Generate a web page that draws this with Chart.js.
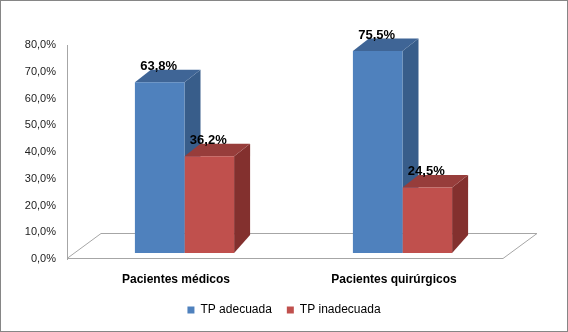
<!DOCTYPE html>
<html lang="es">
<head>
  <meta charset="UTF-8">
  <title>TP adecuada / inadecuada</title>
  <script src="https://cdn.jsdelivr.net/npm/chart.js"></script>
  <style>
    body { margin: 0; background: #fff; }
    canvas { display: block; }
  </style>
</head>
<body>
  <canvas id="tpChart" width="568" height="332"></canvas>

  <script>
    const categories = ['Pacientes médicos', 'Pacientes quirúrgicos'];
    const seriesNames = ['TP adecuada', 'TP inadecuada'];
    const adecuada = [63.8, 75.5];
    const inadecuada = [36.2, 24.5];
    const yMin = 0;
    const yMax = 80;
    const yStep = 10;

    const FONT = '"Liberation Sans", Arial, sans-serif';

    // 3D offsets (front face shift, bar depth, floor depth)
    const FRONT = { x: 8.5, y: -6 };
    const DEPTH = { x: 16, yTop: -12.5, yBottom: -18 };
    const FLOOR = { x: 34, y: -25 };

    const pct = v => v.toFixed(1).replace('.', ',') + '%';

    // side + top faces, drawn before the front faces so later bars cover earlier sides
    function drawFaces(ctx, el, ds) {
      const { x, y, base, width } = el.getProps(['x', 'y', 'base', 'width'], true);
      const l = x - width / 2, r = x + width / 2;
      ctx.fillStyle = ds.sideColor;
      ctx.beginPath();
      ctx.moveTo(r, y);
      ctx.lineTo(r + DEPTH.x, y + DEPTH.yTop);
      ctx.lineTo(r + DEPTH.x, base + DEPTH.yBottom);
      ctx.lineTo(r, base);
      ctx.closePath();
      ctx.fill();
      ctx.fillStyle = ds.topColor;
      ctx.beginPath();
      ctx.moveTo(l, y);
      ctx.lineTo(l + DEPTH.x, y + DEPTH.yTop);
      ctx.lineTo(r + DEPTH.x, y + DEPTH.yTop);
      ctx.lineTo(r, y);
      ctx.closePath();
      ctx.fill();
    }

    const bar3d = {
      id: 'bar3d',
      beforeDatasetsDraw(chart) {
        const { ctx, chartArea: a, scales: { y } } = chart;
        const y0 = Math.round(y.getPixelForValue(0)) - 0.5;
        ctx.save();
        ctx.strokeStyle = '#a6a6a6';
        ctx.lineWidth = 1;
        ctx.beginPath();
        ctx.moveTo(a.left, y0);
        ctx.lineTo(a.left + FLOOR.x, y0 + FLOOR.y);
        ctx.lineTo(a.right + FLOOR.x, y0 + FLOOR.y);
        ctx.lineTo(a.right, y0);
        ctx.closePath();
        ctx.stroke();
        ctx.restore();

        ctx.save();
        ctx.translate(FRONT.x, FRONT.y);
        const n = categories.length;
        for (let j = 0; j < n; j++) {
          chart.data.datasets.forEach((ds, i) => {
            drawFaces(ctx, chart.getDatasetMeta(i).data[j], ds);
          });
        }
      },
      afterDatasetsDraw(chart) {
        const ctx = chart.ctx;
        ctx.restore();
        ctx.save();
        ctx.font = 'bold 13px ' + FONT;
        ctx.fillStyle = '#000';
        ctx.textAlign = 'center';
        ctx.textBaseline = 'middle';
        chart.data.datasets.forEach((ds, i) => {
          chart.getDatasetMeta(i).data.forEach((el, j) => {
            ctx.fillText(pct(ds.data[j]), el.x + FRONT.x - 1, el.y + FRONT.y - 16);
          });
        });
        ctx.restore();
      },
      afterDraw(chart) {
        const ctx = chart.ctx;
        ctx.save();
        ctx.strokeStyle = '#868686';
        ctx.lineWidth = 1;
        ctx.strokeRect(0.5, 0.5, chart.width - 1, chart.height - 1);
        ctx.restore();
      }
    };

    new Chart(document.getElementById('tpChart'), {
      type: 'bar',
      data: {
        labels: categories,
        datasets: [
          {
            label: seriesNames[0],
            data: adecuada,
            backgroundColor: '#4f81bd',
            sideColor: '#385d8a',
            topColor: '#3f6596',
            clip: false
          },
          {
            label: seriesNames[1],
            data: inadecuada,
            backgroundColor: '#c0504d',
            sideColor: '#83302e',
            topColor: '#973d3b',
            clip: false
          }
        ]
      },
      options: {
        responsive: false,
        animation: false,
        categoryPercentage: 0.455,
        barPercentage: 1,
        layout: { padding: { top: 45, bottom: 6, left: 0, right: 0 } },
        plugins: {
          tooltip: { enabled: false },
          legend: {
            position: 'bottom',
            labels: {
              boxWidth: 7,
              boxHeight: 7,
              padding: 15,
              color: '#000',
              font: { family: FONT, size: 12 }
            }
          }
        },
        scales: {
          x: {
            grid: { display: false, drawTicks: false },
            border: { display: false },
            ticks: {
              padding: 13,
              color: '#000',
              font: { family: FONT, size: 12, weight: 'bold' }
            },
            afterFit: s => { s.height = 30; }
          },
          y: {
            min: yMin,
            max: yMax,
            grid: { display: false, drawTicks: false },
            border: { display: true, color: '#a6a6a6' },
            ticks: {
              stepSize: yStep,
              padding: 11,
              color: '#222',
              font: { family: FONT, size: 11 },
              callback: v => pct(v)
            },
            afterFit: s => { s.width = 67; }
          },
          yRight: {
            position: 'right',
            grid: { display: false, drawTicks: false },
            border: { display: false },
            ticks: { display: false },
            afterFit: s => { s.width = 65; }
          }
        }
      },
      plugins: [bar3d]
    });
  </script>
</body>
</html>
